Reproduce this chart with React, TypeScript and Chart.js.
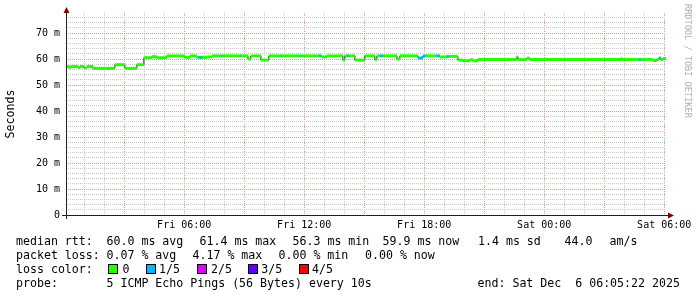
import React, { useEffect, useRef } from 'react';
import { Chart, registerables } from 'chart.js';

Chart.register(...registerables);

// ---------- data ----------
const START_MIN = 5 + 22 / 60; // Fri 00:05:22 (minutes since Fri 00:00)
const END_MIN = START_MIN + 30 * 60; // Sat 06:05:22

// step start times (minutes since Fri 00:00), median rtt (ms), loss index (0..4)
const stepMinutes = [
  5, 14, 20, 41, 47, 59, 68, 86, 152, 182,
  218, 239, 263, 278, 308, 362, 377, 398, 404, 413,
  428, 443, 470, 473, 527, 530, 551, 560, 590, 614,
  650, 653, 707, 710, 764, 770, 773, 788, 836, 842,
  848, 854, 872, 902, 932, 938, 947, 956, 998, 1007,
  1061, 1076, 1085, 1118, 1127, 1148, 1154, 1181, 1196, 1217,
  1226, 1241, 1358, 1361, 1388, 1397, 1670, 1673, 1724, 1730,
  1766, 1778, 1784, 1790, 1796,
];
const medianMs = [
  57.1, 56.8, 57.1, 56.7, 57.1, 56.6, 57.1, 56.4, 57.8, 56.4,
  57.8, 60.5, 60.9, 60.5, 61.2, 60.6, 61.2, 60.6, 60.6, 60.6,
  60.8, 61.2, 61.2, 61.2, 61.2, 61.2, 60.0, 61.2, 59.6, 61.2,
  61.2, 61.2, 61.2, 61.2, 61.2, 61.2, 60.8, 61.2, 59.6, 61.2,
  61.2, 61.2, 59.6, 61.2, 59.7, 61.2, 61.2, 61.2, 60.0, 61.2,
  60.4, 61.2, 61.2, 61.2, 60.8, 61.0, 61.0, 59.6, 59.3, 59.7,
  59.3, 59.8, 60.9, 59.8, 60.3, 59.8, 60.2, 59.8, 59.8, 59.8,
  59.4, 59.8, 60.4, 59.8, 60.2,
];
const lossIdx = [
  0, 0, 0, 0, 0, 0, 0, 0, 0, 0,
  0, 0, 0, 0, 0, 0, 0, 0, 1, 0,
  0, 0, 1, 0, 1, 0, 0, 0, 0, 0,
  1, 0, 1, 0, 1, 0, 0, 0, 0, 0,
  1, 0, 0, 0, 0, 0, 1, 0, 0, 0,
  1, 1, 0, 1, 0, 1, 0, 0, 0, 0,
  0, 0, 0, 0, 0, 0, 0, 0, 1, 0,
  0, 0, 1, 0, 0,
];

const yGridValues = [0, 2, 4, 6, 8, 10, 12, 14, 16, 18, 20, 22, 24, 26, 28, 30, 32, 34, 36, 38, 40, 42, 44, 46, 48, 50, 52, 54, 56, 58, 60, 62, 64, 66, 68, 70, 72, 74, 76];
const yMax = 77.7;
const xGridHours = [1, 2, 3, 4, 5, 6, 7, 8, 9, 10, 11, 12, 13, 14, 15, 16, 17, 18, 19, 20, 21, 22, 23, 24, 25, 26, 27, 28, 29, 30];
const xTickHours = [6, 12, 18, 24, 30];
const xTickLabels = ['Fri 06:00', 'Fri 12:00', 'Fri 18:00', 'Sat 00:00', 'Sat 06:00'];

const lossLabels = ['0', '1/5', '2/5', '3/5', '4/5'];
const lossColors = ['#26ff00', '#00b8ff', '#dd00ff', '#5e00ff', '#ff0000'];

const rttStats = ['60.0 ms avg', '61.4 ms max', '56.3 ms min', '59.9 ms now', '1.4 ms sd', '44.0', 'am/s'];
const lossStats = ['0.07 % avg', '4.17 % max', '0.00 % min', '0.00 % now'];
const probeText = '5 ICMP Echo Pings (56 Bytes) every 10s';
const endText = 'end: Sat Dec  6 06:05:22 2025';
const yTitle = 'Seconds';
const watermark = 'RRDTOOL / TOBI OETIKER';

// ---------- styling ----------
const MONO = "'DejaVu Sans Mono', monospace";
const GRID = '#c8c8c8';
const MGRID = '#ef9090';

const overlayPlugin = {
  id: 'rrdOverlay',
  afterDraw(chart: any) {
    const ctx = chart.ctx as CanvasRenderingContext2D;
    const a = chart.chartArea;
    ctx.save();
    // axes
    ctx.strokeStyle = '#202020';
    ctx.lineWidth = 1;
    ctx.beginPath();
    ctx.moveTo(a.left - 4, a.bottom + 0.5);
    ctx.lineTo(a.right + 3, a.bottom + 0.5);
    ctx.moveTo(a.left + 0.5, a.bottom + 4);
    ctx.lineTo(a.left + 0.5, a.top - 1);
    ctx.stroke();
    // arrows
    ctx.fillStyle = '#800000';
    ctx.beginPath();
    ctx.moveTo(a.right + 2, a.bottom - 2.5);
    ctx.lineTo(a.right + 8, a.bottom + 0.5);
    ctx.lineTo(a.right + 2, a.bottom + 3.5);
    ctx.closePath();
    ctx.fill();
    ctx.beginPath();
    ctx.moveTo(a.left - 2.5, a.top);
    ctx.lineTo(a.left + 0.5, a.top - 6);
    ctx.lineTo(a.left + 3.5, a.top);
    ctx.closePath();
    ctx.fill();

    // y title
    ctx.fillStyle = '#000';
    ctx.font = `11.6px ${MONO}`;
    ctx.save();
    ctx.translate(11, (a.top + a.bottom) / 2);
    ctx.rotate(-Math.PI / 2);
    ctx.textAlign = 'center';
    ctx.textBaseline = 'middle';
    ctx.fillText(yTitle, 0, 0);
    ctx.restore();

    // watermark
    ctx.save();
    ctx.fillStyle = '#b0b0b0';
    ctx.font = `8.6px ${MONO}`;
    ctx.translate(687, 4);
    ctx.rotate(Math.PI / 2);
    ctx.textAlign = 'left';
    ctx.textBaseline = 'middle';
    ctx.fillText(watermark, 0, 0);
    ctx.restore();

    // legend
    ctx.fillStyle = '#000';
    ctx.font = `11.6px ${MONO}`;
    ctx.textAlign = 'left';
    ctx.textBaseline = 'alphabetic';
    const r1 = 245, r2 = 259, r3 = 273, r4 = 287;
    ctx.fillText('median rtt:', 16, r1);
    const r1x = [106.5, 199.5, 292.5, 382.5, 478, 564.5, 609.5];
    rttStats.forEach((s, i) => ctx.fillText(s, r1x[i], r1));
    ctx.fillText('packet loss:', 16, r2);
    const r2x = [106.5, 192.5, 278.5, 365];
    lossStats.forEach((s, i) => ctx.fillText(s, r2x[i], r2));
    ctx.fillText('loss color:', 16, r3);
    const boxX = [108, 146, 197, 248, 299];
    const labX = [122.5, 159, 211, 261.3, 312];
    lossLabels.forEach((s, i) => {
      ctx.fillStyle = lossColors[i];
      ctx.fillRect(boxX[i], r3 - 9, 10, 10);
      ctx.strokeStyle = '#000';
      ctx.lineWidth = 1;
      ctx.strokeRect(boxX[i] + 0.5, r3 - 8.5, 9, 9);
      ctx.fillStyle = '#000';
      ctx.fillText(s, labX[i], r3);
    });
    ctx.fillText('probe:', 16, r4);
    ctx.fillText(probeText, 106.5, r4);
    ctx.fillText(endText, 477.5, r4);
    ctx.restore();
  },
};

export default function App() {
  const ref = useRef<HTMLCanvasElement | null>(null);
  useEffect(() => {
    if (!ref.current) return;
    const n = stepMinutes.length;
    const blackLine: any[] = [];
    const colored: any[] = [];
    const segLoss: number[] = [];
    for (let i = 0; i < n; i++) {
      const t0 = stepMinutes[i] / 60;
      const t1 = (i + 1 < n ? stepMinutes[i + 1] : END_MIN) / 60;
      blackLine.push({ x: t0, y: medianMs[i] });
      colored.push({ x: t0, y: medianMs[i] }, { x: t1, y: medianMs[i] }, { x: t1, y: null });
      segLoss.push(lossIdx[i]);
    }
    blackLine.push({ x: END_MIN / 60, y: medianMs[n - 1] });

    const chart = new Chart(ref.current, {
      type: 'line',
      data: {
        datasets: [
          {
            data: colored,
            borderColor: lossColors[0],
            borderWidth: 3,
            borderCapStyle: 'butt',
            pointRadius: 0,
            spanGaps: false,
            order: 0,
            segment: {
              borderColor: (c: any) => lossColors[segLoss[Math.floor(c.p0DataIndex / 3)]],
            },
          } as any,
          {
            data: blackLine,
            borderColor: '#202020',
            borderWidth: 1,
            pointRadius: 0,
            stepped: 'before',
            order: 1,
          } as any,
        ],
      },
      options: {
        responsive: false,
        animation: false,
        devicePixelRatio: 1,
        events: [],
        layout: { padding: { left: 0, right: 31, top: 13, bottom: 0 } },
        plugins: { legend: { display: false }, tooltip: { enabled: false } },
        scales: {
          x: {
            type: 'linear',
            min: START_MIN / 60,
            max: END_MIN / 60,
            afterBuildTicks: (s: any) => {
              s.ticks = xGridHours.map((v) => ({ value: v }));
            },
            afterFit: (s: any) => {
              s.height = 82;
              s.paddingLeft = 0;
              s.paddingRight = 0;
            },
            grid: {
              drawTicks: false,
              lineWidth: 1,
              color: (c: any) => (c.tick && Math.round(c.tick.value) % 3 === 0 ? MGRID : GRID),
            },
            border: { display: false, dash: [1, 1] },
            ticks: {
              autoSkip: false,
              maxRotation: 0,
              padding: 4,
              color: '#000',
              font: { family: MONO, size: 10 },
              callback: (v: any) => {
                const i = xTickHours.indexOf(Number(v));
                return i >= 0 ? xTickLabels[i] : '';
              },
            },
          },
          y: {
            type: 'linear',
            min: 0,
            max: yMax,
            afterBuildTicks: (s: any) => {
              s.ticks = yGridValues.map((v) => ({ value: v }));
            },
            afterFit: (s: any) => {
              s.width = 66;
              s.paddingTop = 0;
              s.paddingBottom = 0;
            },
            grid: {
              drawTicks: false,
              lineWidth: 1,
              color: (c: any) => (c.tick && Math.round(c.tick.value) % 10 === 0 ? MGRID : GRID),
            },
            border: { display: false, dash: [1, 1] },
            ticks: {
              autoSkip: false,
              padding: 6,
              color: '#000',
              font: { family: MONO, size: 10 },
              callback: (v: any) => {
                const val = Number(v);
                if (val % 10 !== 0) return '';
                return val === 0 ? '0' : `${val} m`;
              },
            },
          },
        },
      },
      plugins: [overlayPlugin],
    });
    return () => chart.destroy();
  }, []);

  return (
    <div style={{ position: 'fixed', left: 0, top: 0, width: 697, height: 297, background: '#fff' }}>
      <canvas ref={ref} width={697} height={297} style={{ width: 697, height: 297, display: 'block' }} />
    </div>
  );
}
